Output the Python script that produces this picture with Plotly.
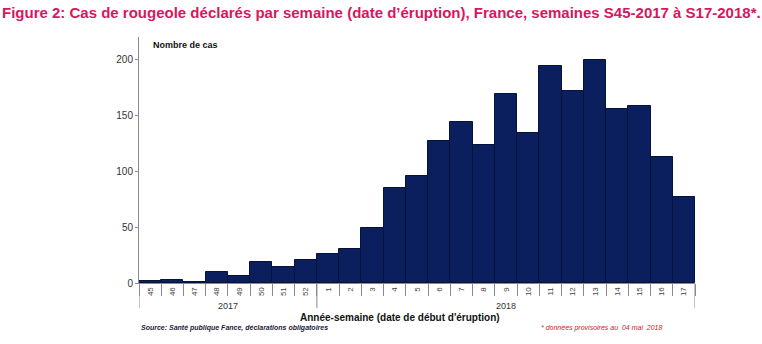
import plotly.graph_objects as go

weeks = ["45", "46", "47", "48", "49", "50", "51", "52",
         "1", "2", "3", "4", "5", "6", "7", "8", "9", "10", "11", "12", "13", "14", "15", "16", "17"]
years = ["2017"] * 8 + ["2018"] * 17
cases = [2, 3, 1, 10, 6, 19, 14, 21, 26, 30, 49, 85, 96, 127, 144, 123, 169, 134, 194, 172, 199, 156, 158, 113, 77]
y_ticks = [0, 50, 100, 150, 200]

title = "Figure 2: Cas de rougeole déclarés par semaine (date d’éruption), France, semaines S45-2017 à S17-2018*."
x_title = "Année-semaine (date de début d'éruption)"
y_title = "Nombre de cas"
source = "Source: Santé publique Fance, déclarations obligatoires"
note = "* données provisoires au  04 mai  2018"

fig = go.Figure(go.Bar(
    x=weeks, y=cases,
    marker=dict(color="#0b1f5e", line=dict(color="#06123a", width=1)),
))

W, H = 762, 344
L, R, T, B = 139, 67, 37, 61
ph = H - T - B

# year groups
groups = []
for i, yv in enumerate(years):
    if not groups or groups[-1][0] != yv:
        groups.append([yv, i, i])
    else:
        groups[-1][2] = i

shapes = []
annos = []
sep_depth = 25 / ph
bounds = [groups[0][1] - 0.5] + [g[2] + 0.5 for g in groups]
for b in bounds:
    shapes.append(dict(type="line", xref="x", yref="paper", x0=b, x1=b, y0=0, y1=-sep_depth,
                       line=dict(color="#8a8a8a", width=1)))
for g in groups:
    annos.append(dict(text=g[0], xref="x", yref="paper", x=(g[1] + g[2]) / 2, y=-22.5 / ph,
                      showarrow=False, font=dict(size=9, color="#333333"), xanchor="center", yanchor="middle"))

font_main = "Liberation Sans, Arial, sans-serif"
annos += [
    dict(text=f"<b>{title}</b>", xref="paper", yref="paper", x=-L / (W - L - R), y=1 + 25 / ph,
         xanchor="left", yanchor="middle", showarrow=False,
         font=dict(size=15, color="#d6175f", family="Liberation Sans Narrow, Arial Narrow, Liberation Sans, sans-serif")),
    dict(text=f"<b>{y_title}</b>", xref="paper", yref="paper", x=12 / (W - L - R), y=1 - 8 / ph,
         xanchor="left", yanchor="middle", showarrow=False, font=dict(size=9, color="#111111", family=font_main)),
    dict(text=f"<b>{x_title}</b>", xref="paper", yref="paper", x=(400 - L) / (W - L - R), y=-34 / ph,
         xanchor="center", yanchor="middle", showarrow=False, font=dict(size=10, color="#111111", family=font_main)),
    dict(text=f"<b><i>{source}</i></b>", xref="paper", yref="paper", x=0, y=-45 / ph,
         xanchor="left", yanchor="middle", showarrow=False, font=dict(size=7, color="#1a1a3a", family=font_main)),
    dict(text=f"<i>{note}</i>", xref="paper", yref="paper", x=(539 - L) / (W - L - R), y=-45 / ph,
         xanchor="left", yanchor="middle", showarrow=False, font=dict(size=7, color="#d0202a", family=font_main)),
]

fig.update_layout(
    width=W, height=H,
    margin=dict(l=L, r=R, t=T, b=B, pad=0),
    paper_bgcolor="white", plot_bgcolor="white",
    bargap=0,
    showlegend=False,
    font=dict(family=font_main, color="#333333"),
    shapes=shapes,
    annotations=annos,
    xaxis=dict(
        type="category", categoryorder="array", categoryarray=weeks,
        range=[-0.5, len(weeks) - 0.5],
        tickangle=-90, tickfont=dict(size=8, color="#444444"),
        ticks="outside", tickson="boundaries", ticklen=12, tickcolor="#8a8a8a",
        showline=True, linecolor="#8a8a8a", linewidth=1,
        showgrid=False, zeroline=False,
    ),
    yaxis=dict(
        range=[0, 220], tickvals=y_ticks,
        tickfont=dict(size=10, color="#333333"),
        ticks="outside", ticklen=3, tickcolor="#8a8a8a",
        showline=True, linecolor="#8a8a8a", linewidth=1,
        showgrid=False, zeroline=False,
    ),
)

fig.write_html("out.html")
